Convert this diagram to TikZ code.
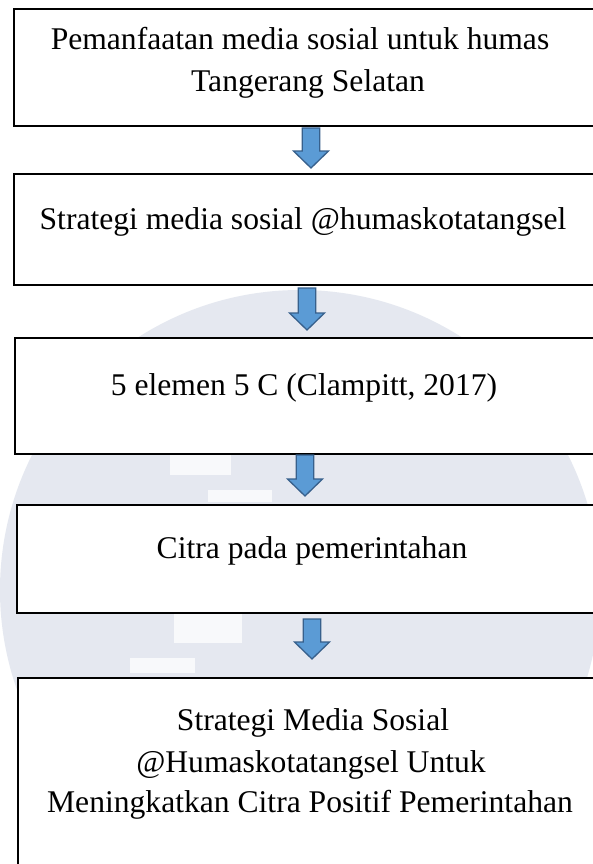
\documentclass[tikz,border=0pt]{standalone}
\usepackage{fontspec}
\setmainfont{Liberation Serif}
\usetikzlibrary{calc}
\definecolor{arrowblue}{RGB}{91,155,213}
\definecolor{arrowedge}{RGB}{55,96,140}
\definecolor{wmgray}{RGB}{229,232,240}
\begin{document}
\begin{tikzpicture}[x=1pt,y=-1pt,
  stepbox/.style={draw=black, line width=2.4pt, fill=white, rectangle, inner sep=0pt, anchor=north west, minimum width=600pt},
  txt/.style={font=\fontsize{31.6}{40}\selectfont, anchor=base, inner sep=0pt},
  barrow/.style={fill=arrowblue, draw=arrowedge, line width=1.3pt, line join=miter},
  wmhole/.style={fill=white!75!wmgray}]
\useasboundingbox (0,0) rectangle (593,864);
\clip (0,0) rectangle (593,864);
\fill[white] (0,0) rectangle (593,864);
% faint watermark
\fill[wmgray] (300,590) circle[radius=300];
\fill[wmhole] (170,453) rectangle (231,475);
\fill[wmhole] (208,490) rectangle (272,502);
\fill[wmhole] (174,613) rectangle (242,643);
\fill[wmhole] (130,658) rectangle (195,673);
% boxes
\node[stepbox, minimum height=117pt] (b1) at (12.5,8) {};
\node[stepbox, minimum height=111pt] (b2) at (13,173) {};
\node[stepbox, minimum height=116pt] (b3) at (14,337) {};
\node[stepbox, minimum height=108pt] (b4) at (16,503.5) {};
\node[stepbox, minimum height=220pt] (b5) at (17,677) {};
% block arrows between boxes
\foreach \n/\x/\t/\b in {a1/311/128/168, a2/307/288/330, a3/305/455/496, a4/312/619/659}{
  \coordinate (\n top) at (\x,\t);
  \coordinate (\n tip) at (\x,\b);
  \draw[barrow] ($(\n top)+(-8.7,0)$) -- ($(\n top)+(8.7,0)$) -- ($(\n tip)+(8.7,-17)$)
    -- ($(\n tip)+(17.5,-17)$) -- (\n tip) -- ($(\n tip)+(-17.5,-17)$)
    -- ($(\n tip)+(-8.7,-17)$) -- cycle;
}
% texts
\node[txt] (t1a) at (300,50) {Pemanfaatan media sosial untuk humas};
\node[txt] (t1b) at (308,92) {Tangerang Selatan};
\node[txt] (t2) at (303,229) {Strategi media sosial @humaskotatangsel};
\node[txt] (t3) at (304,395) {5 elemen 5 C (Clampitt, 2017)};
\node[txt] (t4) at (312,558) {Citra pada pemerintahan};
\node[txt] (t5a) at (313,730) {Strategi Media Sosial};
\node[txt] (t5b) at (311,772) {@Humaskotatangsel Untuk};
\node[txt] (t5c) at (310,812) {Meningkatkan Citra Positif Pemerintahan};
\end{tikzpicture}
\end{document}
